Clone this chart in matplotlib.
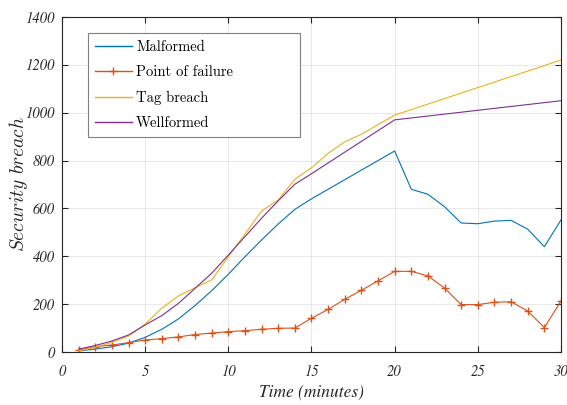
import numpy as np
import matplotlib
matplotlib.use('Agg')
import matplotlib.pyplot as plt

plt.rcParams['mathtext.fontset'] = 'cm'
plt.rcParams['font.family'] = ['cmr10', 'DejaVu Serif']
plt.rcParams['axes.unicode_minus'] = False

t = np.arange(1, 31)
malformed = [5, 12, 22, 37, 61, 95, 138, 194, 256, 325, 398, 468, 535, 596, 640,
             680, 720, 760, 800, 840, 680, 659, 607, 539, 536, 547, 550, 513, 440, 552]
failure = [8, 22, 29, 39, 50, 56, 63, 73, 79, 85, 89, 95, 99, 100, 141,
           178, 220, 258, 297, 337, 337, 318, 267, 198, 198, 208, 210, 171, 102, 213]
tag = [5, 20, 40, 66, 116, 183, 234, 269, 301, 398, 493, 589, 635, 722, 770,
       830, 878, 910, 950, 990, 1013, 1036, 1059, 1082, 1105, 1128, 1151, 1174, 1197, 1220]
wellformed = [12, 27, 46, 71, 113, 152, 203, 266, 329, 405, 482, 559, 632, 701, 745,
              790, 835, 880, 925, 970, 978, 986, 994, 1002, 1010, 1018, 1026, 1034, 1042, 1050]
xticks = np.arange(0, 31, 5)
yticks = np.arange(0, 1401, 200)

fig = plt.figure(figsize=(5.67, 4.05), dpi=100)
ax = fig.add_axes([0.1093, 0.1309, 0.8801, 0.8272])

lw = 0.8
ax.plot(t, malformed, color='#0072BD', lw=lw, label='Malformed')
ax.plot(t, failure, color='#D95319', lw=lw, marker='+', ms=6, mew=1.0, label='Point of failure')
ax.plot(t, tag, color='#EDB120', lw=lw, label='Tag breach')
ax.plot(t, wellformed, color='#7E2F8E', lw=lw, label='Wellformed')

ax.set_xlim(0, 30)
ax.set_ylim(0, 1400)
ax.set_xticks(xticks)
ax.set_yticks(yticks)
tick_font = {'family': 'STIXGeneral', 'style': 'italic', 'size': 10.5}
ax.set_xticklabels([str(v) for v in xticks], fontdict=tick_font)
ax.set_yticklabels([str(v) for v in yticks], fontdict=tick_font)
ax.tick_params(direction='in', top=True, right=True, length=4, width=0.8,
               color='#262626', labelcolor='#262626')
ax.tick_params(axis='x', pad=9)
ax.tick_params(axis='y', pad=5)
for s in ax.spines.values():
    s.set_color('#262626')
    s.set_linewidth(0.8)
ax.grid(True, color='#000000', alpha=0.12, lw=0.5)

ax.set_xlabel('Time (minutes)', family='STIXGeneral', style='italic', fontsize=12.5,
              color='#262626', labelpad=4)
ax.set_ylabel(r'$\mathit{Security\ breach}$', fontsize=14, color='#262626')
ax.yaxis.set_label_coords(-0.064, 0.5)

leg = ax.legend(loc='upper left', bbox_to_anchor=(0.052, 0.952 - 0.316, 0.425, 0.316),
                mode='expand', fancybox=False, framealpha=1, edgecolor='#808080',
                handlelength=2.5, handletextpad=0.3, labelspacing=0.78, borderpad=0.5,
                borderaxespad=0, prop={'family': 'cmr10', 'size': 10.5})
leg.get_frame().set_linewidth(0.8)
for h in leg.legend_handles:
    h.set_linewidth(1.0)

fig.savefig('out.png', dpi=100)
